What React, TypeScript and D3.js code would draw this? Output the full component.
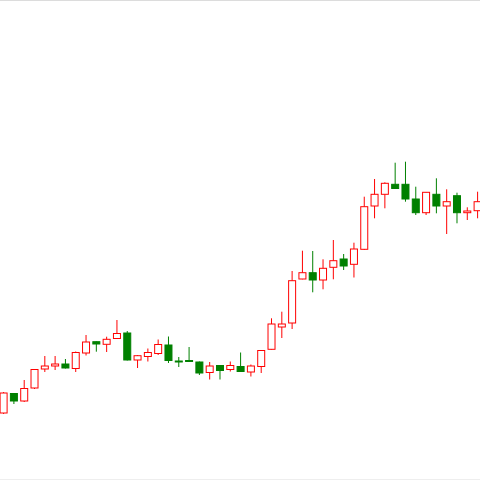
import React from "react";
import * as d3 from "d3";

const days: number[] = d3.range(47);
const opens = [2067, 2086.5, 2079, 2092, 2111, 2114, 2116, 2111.5, 2127, 2138.3, 2135.7, 2141.5, 2147, 2120, 2123.5, 2126.5, 2135, 2119, 2119.5, 2118, 2107.5, 2114.5, 2110.5, 2113.5, 2108, 2113.5, 2130.7, 2153, 2157, 2201, 2207.3, 2200, 2212.7, 2221, 2215.7, 2230.7, 2274, 2285.7, 2295.7, 2295.7, 2281, 2267.3, 2285.7, 2274, 2284.3, 2267.3, 2269.3];
const closes = [2087, 2079, 2091.5, 2110.5, 2114, 2116, 2112, 2127.5, 2138, 2136, 2140.7, 2146.5, 2120, 2124.3, 2127.5, 2135.5, 2119.5, 2118.5, 2118.5, 2107, 2114, 2109.5, 2114.5, 2108.5, 2114, 2129.5, 2156, 2156, 2199.3, 2207.3, 2200, 2211.7, 2219.3, 2214, 2231, 2273.3, 2285.7, 2296.7, 2291.5, 2281, 2267.3, 2287.7, 2274, 2278.3, 2267.3, 2269, 2278.3];
const highs = [2088, 2087, 2100, 2111, 2124, 2124, 2121, 2128.5, 2145, 2138.5, 2143.3, 2160, 2149, 2125, 2131.5, 2140.5, 2143.5, 2123, 2133, 2118.5, 2118, 2115, 2118.5, 2127.5, 2115.5, 2130, 2161.7, 2168.3, 2209, 2229.3, 2229, 2220.7, 2240, 2226, 2237.3, 2283.3, 2301, 2297.7, 2317.3, 2318.3, 2293.3, 2288, 2301.7, 2290.7, 2287.3, 2272.7, 2288.3];
const lows = [2066, 2076, 2078, 2091, 2108, 2110, 2111.5, 2108, 2124.5, 2128.3, 2128, 2141, 2119.5, 2112, 2118.5, 2125, 2117, 2113, 2118, 2105, 2100.5, 2100.5, 2108.5, 2108, 2103.5, 2107, 2130.5, 2142, 2151, 2200.7, 2187.7, 2190.7, 2200.7, 2210, 2202.5, 2230, 2261.7, 2271.7, 2291, 2278.3, 2265, 2265, 2266.7, 2246, 2256.7, 2260, 2261.7];

const W = 480;
const H = 480;
const UP = "#ff0000";
const DOWN = "#008000";

export default function App() {
  const x = d3.scalePoint<number>().domain(days).range([3.6, 477.6]);
  const y = d3.scaleLinear().domain([2000, 2480]).range([H, 0]);
  const bw = 7;
  return (
    <svg
      width={W}
      height={H}
      style={{ position: "fixed", left: 0, top: 0, background: "#fff" }}
    >
      <rect x={0} y={0} width={W} height={H} fill="#fff" />
      <line x1={0} x2={W} y1={0.5} y2={0.5} stroke="#dcdcdc" strokeWidth={1} />
      <line x1={0} x2={W} y1={479.5} y2={479.5} stroke="#eeeeee" strokeWidth={1} />
      {days.map((d, i) => {
        const o = opens[i];
        const c = closes[i];
        const up = c >= o;
        const col = up ? UP : DOWN;
        const cx = x(d) as number;
        const top = y(Math.max(o, c));
        const bot = y(Math.min(o, c));
        return (
          <g key={d}>
            <line x1={cx} x2={cx} y1={y(highs[i])} y2={y(lows[i])} stroke={col} strokeWidth={1} />
            <rect
              x={cx - bw / 2}
              y={top}
              width={bw}
              height={Math.max(bot - top, 1)}
              fill={up ? "#fff" : col}
              stroke={col}
              strokeWidth={1}
            />
          </g>
        );
      })}
    </svg>
  );
}
